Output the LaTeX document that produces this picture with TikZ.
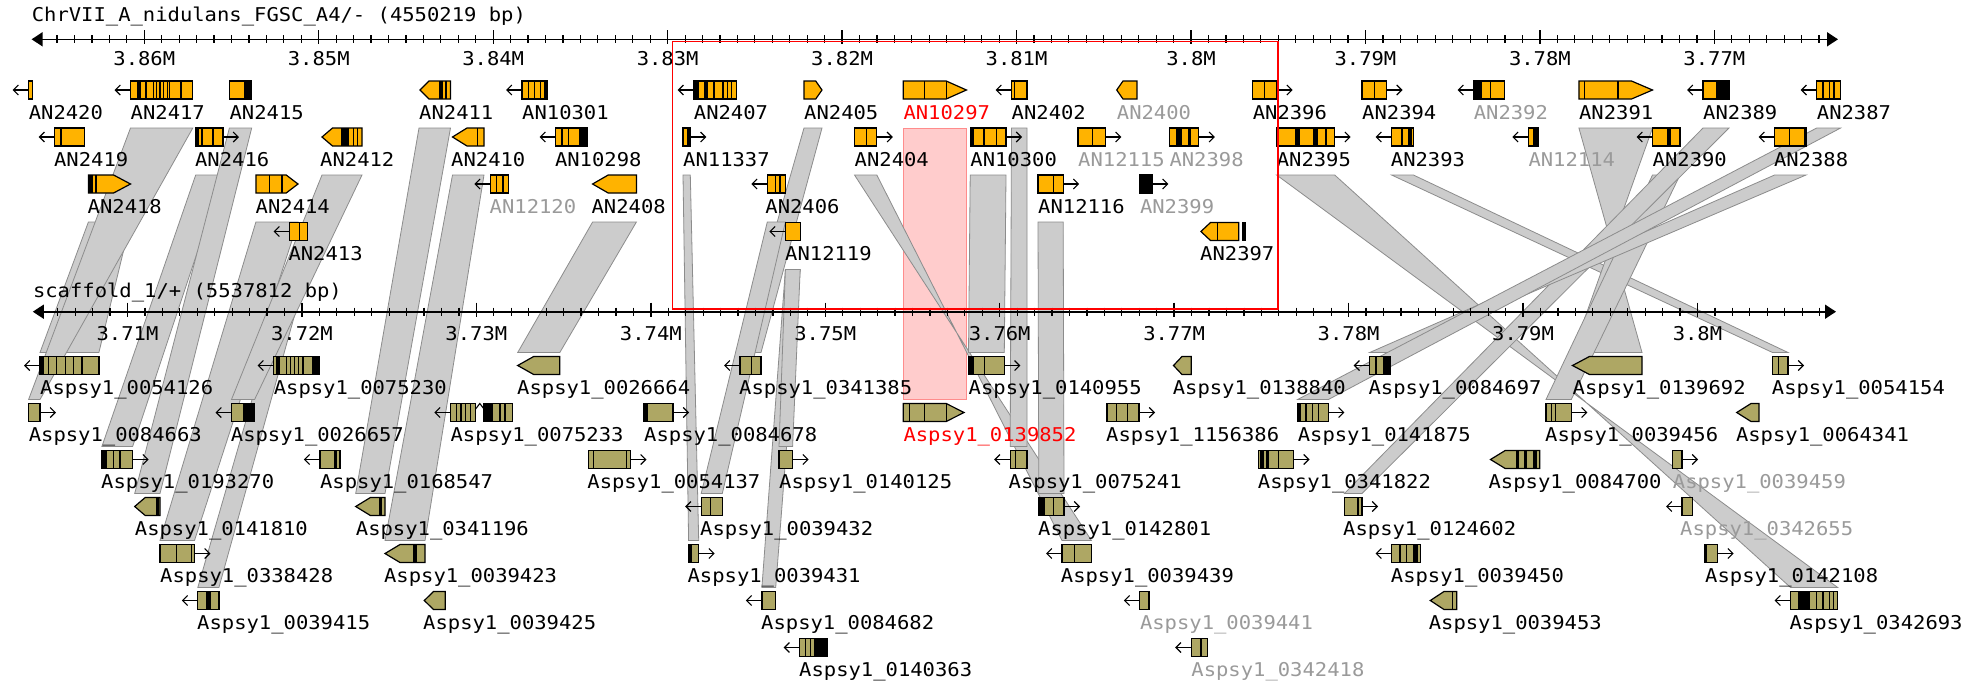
\documentclass[tikz,border=0pt]{standalone}
\usepackage{fontspec}
\newfontfamily\labfont[FakeStretch=1.08]{DejaVu Sans Mono}
\usetikzlibrary{arrows.meta}
\definecolor{gor}{HTML}{FFB300}
\definecolor{gol}{HTML}{AEA764}
\definecolor{bnd}{HTML}{CCCCCC}
\definecolor{bnde}{HTML}{8C8C8C}
\definecolor{lgray}{HTML}{9A9A9A}
\definecolor{pinkf}{HTML}{FFCCCC}
\definecolor{pinke}{HTML}{FF8C8C}
\tikzset{
  gene/.style={draw=black,line width=1.2pt},
  band/.style={fill=bnd,draw=bnde,line width=0.8pt},
  strand/.style={draw=black,line width=1.1pt,-{Straight Barb[length=5pt,width=10pt]}},
  lab/.style={font={\labfont\fontsize{19pt}{22pt}\selectfont},anchor=base west,inner sep=0pt},
  axlab/.style={font={\labfont\fontsize{19pt}{22pt}\selectfont},anchor=base,inner sep=0pt},
  glab/.style={lab,text=lgray},
  rlab/.style={lab,text=red},
  axisline/.style={line width=1.6pt,{Triangle[length=11pt,width=14pt]}-{Triangle[length=11pt,width=14pt]}},
}
\newcommand\gnR[4]{\filldraw[gene,fill=#4] (#1,#3-9) rectangle (#2,#3+9);}
\newcommand\gnL[5]{\filldraw[gene,fill=#5] (#1,#4) -- (#2,#4-9) -- (#3,#4-9) -- (#3,#4+9) -- (#2,#4+9) -- cycle;}
\newcommand\gnP[5]{\filldraw[gene,fill=#5] (#1,#4-9) -- (#2,#4-9) -- (#3,#4) -- (#2,#4+9) -- (#1,#4+9) -- cycle;}
\newcommand\gnS[2]{\draw[gene] (#1,#2-9) -- (#1,#2+9);}
\newcommand\gnB[3]{\fill[black] (#1,#3-9) rectangle (#2,#3+9);}
\newcommand\arL[2]{\draw[strand] (#1,#2) -- ++(-16,0);}
\newcommand\arR[2]{\draw[strand] (#1,#2) -- ++(16,0);}
\newcommand\bandS[6]{\filldraw[band] (#1,#3) -- (#2,#3) -- (#5,#6) -- (#4,#6) -- cycle;}
\newcommand\bandX[6]{\filldraw[band] (#1,#3) -- (#2,#3) -- (#4,#6) -- (#5,#6) -- cycle;}
\begin{document}
\begin{tikzpicture}[x=1pt,y=-1pt]
\fill[white] (0,0) rectangle (1979,686);
\useasboundingbox (0,0) rectangle (1979,686);
% pink highlight
\filldraw[fill=pinkf,draw=pinke,line width=1pt] (903.3,128) rectangle (966.4,399.5);
% bands
\bandS{88.4}{130.5}{222}{40}{98.9}{352.5}
\bandS{130.5}{192.8}{128}{28.6}{40}{399.5}
\bandS{195.7}{223}{175}{101.9}{132.6}{446.5}
\bandS{229.4}{251.7}{128}{134.7}{160}{493.5}
\bandS{255.9}{298}{222}{160}{194.5}{540.5}
\bandS{289.6}{307.3}{269.5}{197.8}{218.9}{587.5}
\bandS{322}{362}{175}{231.5}{254.6}{399.5}
\bandS{419}{450.5}{128}{355.7}{385}{493.5}
\bandS{452.5}{484}{175}{385}{425}{540.5}
\bandS{592.6}{636.4}{222}{517.7}{559.8}{352.5}
\bandS{683}{690.3}{175}{688.6}{698.7}{540.5}
\bandS{804}{822}{128}{740}{761}{352.5}
\bandS{767.3}{785.4}{222}{701.2}{722.3}{493.5}
\bandS{785.4}{800.2}{269.5}{761.9}{775.7}{587.5}
\bandS{785.4}{800.2}{269.5}{779}{792.6}{446.5}
\bandX{854.5}{876.8}{175}{1062}{1091.4}{540.5}
\bandS{970.2}{1006}{175}{968.5}{1004.3}{352.5}
\bandS{1011.5}{1027}{128}{1010.2}{1027}{446.5}
\bandS{1038}{1063.2}{222}{1038.8}{1064}{493.5}
\bandX{1276.6}{1334.7}{175}{1790.6}{1837.7}{587.5}
\bandS{1391.6}{1413.4}{175}{1772.5}{1788}{352.5}
\bandX{1578.9}{1652.5}{128}{1572.5}{1642}{352.5}
\bandS{1652.5}{1680}{175}{1546}{1571.3}{399.5}
\bandS{1703}{1729}{128}{1344.4}{1362}{493.5}
\bandS{1774.6}{1806}{175}{1369.7}{1390.7}{352.5}
\bandS{1816.7}{1840.6}{128}{1297.6}{1328.4}{399.5}
% top axis
\node[lab] (ttitle) at (31.6,21.7) {ChrVII\_A\_nidulans\_FGSC\_A4/- (4550219 bp)};
\draw[axisline] (31.6,39.3) -- (1838,39.3);
\foreach \k in {-6,...,96} {\draw[line width=1.2pt] ({144.3+\k*17.445},35.3) -- ++(0,8);}
\foreach \k/\l in {0/3.86M,1/3.85M,2/3.84M,3/3.83M,4/3.82M,5/3.81M,6/3.8M,7/3.79M,8/3.78M,9/3.77M} {
  \draw[line width=1.4pt] ({144.3+\k*174.45},30.3) -- ++(0,14);
  \node[axlab] (tx\k) at ({144.3+\k*174.45},65.5) {\l};}
% bottom axis
\node[lab] (btitle) at (32.8,297.5) {scaffold\_1/+ (5537812 bp)};
\draw[axisline] (32.8,311.7) -- (1836,311.7);
\foreach \k in {-5,...,97} {\draw[line width=1.2pt] ({127.5+\k*17.444},307.7) -- ++(0,8);}
\foreach \k/\l in {0/3.71M,1/3.72M,2/3.73M,3/3.74M,4/3.75M,5/3.76M,6/3.77M,7/3.78M,8/3.79M,9/3.8M} {
  \draw[line width=1.4pt] ({127.5+\k*174.44},302.7) -- ++(0,14);
  \node[axlab] (bx\k) at ({127.5+\k*174.44},340) {\l};}
% ===== top genes row 1 (y=90)
\arL{28.6}{90} \gnR{28.6}{32.5}{90}{gor}
\node[lab] (a2420) at (28.6,119.3) {AN2420};
\arL{130.5}{90} \gnR{130.5}{192.8}{90}{gor} \gnB{136.8}{141}{90} \gnB{145.2}{147.3}{90}
\gnS{153.6}{90} \gnS{156.6}{90} \gnS{160}{90} \gnS{163.3}{90} \gnS{167.1}{90} \gnS{169.6}{90} \gnS{181}{90}
\node[lab] (a2417) at (130.5,119.3) {AN2417};
\gnR{229.4}{251.7}{90}{gor} \gnB{244}{251.7}{90}
\node[lab] (a2415) at (229.4,119.3) {AN2415};
\gnL{420}{429}{450.5}{90}{gor} \gnB{439}{442.5}{90} \gnS{446}{90}
\node[lab] (a2411) at (419,119.3) {AN2411};
\arL{522}{90} \gnR{522}{547}{90}{gor} \gnS{528.2}{90} \gnS{534.5}{90} \gnS{540.8}{90} \gnB{543.5}{547}{90}
\node[lab] (a10301) at (522,119.3) {AN10301};
\arL{693.7}{90} \gnR{693.7}{736.6}{90}{gor} \gnB{693.7}{699}{90} \gnB{704}{708}{90} \gnB{712.5}{715}{90}
\gnS{723}{90} \gnS{727.3}{90} \gnS{731.6}{90}
\node[lab] (a2407) at (693.7,119.3) {AN2407};
\gnP{804}{815.7}{822}{90}{gor}
\node[lab] (a2405) at (804,119.3) {AN2405};
\gnP{903.3}{946.2}{966.4}{90}{gor} \gnS{924.3}{90} \gnS{946.2}{90}
\node[rlab] (a10297) at (903.3,119.3) {AN10297};
\arL{1011.5}{90} \gnR{1011.5}{1027}{90}{gor} \gnS{1014.5}{90}
\node[lab] (a2402) at (1011.5,119.3) {AN2402};
\gnL{1116.7}{1123}{1136.9}{90}{gor}
\node[glab] (a2400) at (1116.7,119.3) {AN2400};
\gnR{1252.6}{1276.6}{90}{gor} \gnS{1264.8}{90} \arR{1276.6}{90}
\node[lab] (a2396) at (1252.6,119.3) {AN2396};
\gnR{1362}{1386.5}{90}{gor} \gnS{1374.7}{90} \arR{1386.5}{90}
\node[lab] (a2394) at (1362,119.3) {AN2394};
\arL{1473.6}{90} \gnR{1473.6}{1504.4}{90}{gor} \gnB{1473.6}{1482}{90} \gnS{1490.5}{90}
\node[glab] (a2392) at (1473.6,119.3) {AN2392};
\gnP{1578.9}{1631.5}{1652.5}{90}{gor} \gnS{1584.3}{90} \gnS{1618}{90}
\node[lab] (a2391) at (1578.9,119.3) {AN2391};
\arL{1703}{90} \gnR{1703}{1729}{90}{gor} \gnB{1715.6}{1729}{90}
\node[lab] (a2389) at (1703,119.3) {AN2389};
\arL{1816.7}{90} \gnR{1816.7}{1840.6}{90}{gor} \gnS{1823}{90} \gnS{1829.3}{90} \gnS{1834}{90}
\node[lab] (a2387) at (1816.7,119.3) {AN2387};
% ===== top row 2 (y=137)
\arL{54.7}{137} \gnR{54.7}{84.2}{137}{gor} \gnS{61}{137}
\node[lab] (a2419) at (53.9,166.3) {AN2419};
\gnR{195.7}{223}{137}{gor} \gnB{195.7}{198.5}{137} \gnS{202}{137} \gnS{213}{137} \arR{223}{137}
\node[lab] (a2416) at (194.9,166.3) {AN2416};
\gnL{322}{332.5}{362}{137}{gor} \gnB{341}{349.4}{137} \gnS{353.6}{137} \gnS{357.8}{137}
\node[lab] (a2412) at (320,166.3) {AN2412};
\gnL{452.5}{467}{484}{137}{gor} \gnS{477.7}{137}
\node[lab] (a2410) at (451,166.3) {AN2410};
\arL{555.6}{137} \gnR{555.6}{587.2}{137}{gor} \gnS{562}{137} \gnS{568.2}{137} \gnB{578.7}{587.2}{137}
\node[lab] (a10298) at (554.8,166.3) {AN10298};
\gnR{683}{690.3}{137}{gor} \gnB{687}{690.3}{137} \arR{690.3}{137}
\node[lab] (a11337) at (683,166.3) {AN11337};
\gnR{854.5}{876.8}{137}{gor} \gnS{866.2}{137} \arR{876.8}{137}
\node[lab] (a2404) at (854.5,166.3) {AN2404};
\gnR{970.2}{1006}{137}{gor} \gnB{970.2}{973.6}{137} \gnS{984}{137} \gnS{996.7}{137} \arR{1006}{137}
\node[lab] (a10300) at (970.2,166.3) {AN10300};
\gnR{1078}{1105.3}{137}{gor} \gnS{1092.7}{137} \arR{1105.3}{137}
\node[glab] (a12115) at (1078,166.3) {AN12115};
\gnR{1169.3}{1198.8}{137}{gor} \gnB{1175.6}{1182}{137} \gnB{1188}{1191}{137} \arR{1198.8}{137}
\node[glab] (a2398) at (1169.3,166.3) {AN2398};
\gnR{1276.6}{1334.7}{137}{gor} \gnB{1295}{1300}{137} \gnB{1313}{1318}{137} \gnS{1326}{137} \arR{1334.7}{137}
\node[lab] (a2395) at (1276.6,166.3) {AN2395};
\arL{1391.6}{137} \gnR{1391.6}{1413.4}{137}{gor} \gnS{1402}{137} \gnB{1408.4}{1411.8}{137}
\node[lab] (a2393) at (1390.7,166.3) {AN2393};
\arL{1528.3}{137} \gnR{1528.3}{1538}{137}{gor} \gnB{1533}{1538}{137}
\node[glab] (a12114) at (1528.3,166.3) {AN12114};
\arL{1652.5}{137} \gnR{1652.5}{1680}{137}{gor} \gnB{1667.2}{1671.4}{137}
\node[lab] (a2390) at (1652.5,166.3) {AN2390};
\arL{1774.6}{137} \gnR{1774.6}{1806}{137}{gor} \gnS{1789.3}{137} \gnB{1803.5}{1806}{137}
\node[lab] (a2388) at (1773.8,166.3) {AN2388};
% ===== top row 3 (y=184)
\gnP{88.4}{113.6}{130.5}{184}{gor} \gnB{88.4}{93.4}{184} \gnS{96}{184}
\node[lab] (a2418) at (87.5,213.3) {AN2418};
\gnP{255.9}{286.2}{298}{184}{gor} \gnS{269.4}{184} \gnS{282}{184}
\node[lab] (a2414) at (255.5,213.3) {AN2414};
\arL{490.3}{184} \gnR{490.3}{508.5}{184}{gor} \gnS{496.7}{184} \gnS{503}{184}
\node[glab] (a12120) at (489.5,213.3) {AN12120};
\gnL{592.6}{608.2}{636.4}{184}{gor}
\node[lab] (a2408) at (591.4,213.3) {AN2408};
\arL{767.3}{184} \gnR{767.3}{785.4}{184}{gor} \gnS{775.7}{184} \gnS{780}{184}
\node[lab] (a2406) at (765.2,213.3) {AN2406};
\gnR{1038}{1063.2}{184}{gor} \gnS{1053.5}{184} \arR{1063.2}{184}
\node[lab] (a12116) at (1038,213.3) {AN12116};
\gnR{1139.8}{1152.4}{184}{black} \arR{1152.4}{184}
\node[glab] (a2399) at (1139.8,213.3) {AN2399};
% ===== top row 4 (y=231.5)
\arL{289.6}{231.5} \gnR{289.6}{307.3}{231.5}{gor} \gnS{299.7}{231.5}
\node[lab] (a2413) at (288.3,260.8) {AN2413};
\arL{785.4}{231.5} \gnR{785.4}{800.2}{231.5}{gor}
\node[lab] (a12119) at (785,260.8) {AN12119};
\gnL{1200.9}{1210.5}{1238.7}{231.5}{gor} \gnS{1217.7}{231.5} \gnR{1243}{1245}{231.5}{black}
\node[lab] (a2397) at (1200,260.8) {AN2397};
% ===== bottom row 1 (y=365.5)
\arL{40}{365.5} \gnR{40}{98.9}{365.5}{gol} \gnB{40}{43.5}{365.5} \gnS{48.4}{365.5} \gnS{56.8}{365.5} \gnS{65.2}{365.5} \gnS{73.6}{365.5} \gnS{82}{365.5}
\node[lab] (b0054126) at (40,394.5) {Aspsy1\_0054126};
\arL{273.6}{365.5} \gnR{273.6}{319}{365.5}{gol} \gnB{275.7}{280}{365.5} \gnS{286.2}{365.5} \gnS{290.4}{365.5} \gnS{294.6}{365.5} \gnS{298.8}{365.5} \gnS{303}{365.5} \gnB{311.5}{319}{365.5}
\node[lab] (b0075230) at (273.6,394.5) {Aspsy1\_0075230};
\gnL{517.7}{533.7}{559.8}{365.5}{gol}
\node[lab] (b0026664) at (517,394.5) {Aspsy1\_0026664};
\arL{740}{365.5} \gnR{740}{761}{365.5}{gol} \gnS{751.8}{365.5}
\node[lab] (b0341385) at (739,394.5) {Aspsy1\_0341385};
\gnR{968.5}{1004.3}{365.5}{gol} \gnB{968.5}{973.5}{365.5} \gnS{984.5}{365.5} \arR{1004.3}{365.5}
\node[lab] (b0140955) at (968.5,394.5) {Aspsy1\_0140955};
\gnL{1173.5}{1182}{1191.2}{365.5}{gol}
\node[lab] (b0138840) at (1172.6,394.5) {Aspsy1\_0138840};
\arL{1369.7}{365.5} \gnR{1369.7}{1390.7}{365.5}{gol} \gnS{1376}{365.5} \gnB{1383}{1390.7}{365.5}
\node[lab] (b0084697) at (1368.4,394.5) {Aspsy1\_0084697};
\gnL{1572.5}{1589.4}{1642}{365.5}{gol}
\node[lab] (b0139692) at (1572.5,394.5) {Aspsy1\_0139692};
\gnR{1772.5}{1788}{365.5}{gol} \gnS{1778.8}{365.5} \arR{1788}{365.5}
\node[lab] (b0054154) at (1771.7,394.5) {Aspsy1\_0054154};
% ===== bottom row 2 (y=412.5)
\gnR{28.6}{40}{412.5}{gol} \arR{40}{412.5}
\node[lab] (b0084663) at (28.6,441.5) {Aspsy1\_0084663};
\arL{231.5}{412.5} \gnR{231.5}{254.6}{412.5}{gol} \gnB{243.3}{254.6}{412.5}
\node[lab] (b0026657) at (230.7,441.5) {Aspsy1\_0026657};
\arL{450.4}{412.5} \gnR{450.4}{475.6}{412.5}{gol} \gnS{456.7}{412.5} \gnS{461}{412.5} \gnS{465.5}{412.5} \gnS{470.5}{412.5}
\draw[line width=1.1pt] (475.6,409) -- (479.8,403.5) -- (484,409);
\gnR{484}{512.7}{412.5}{gol} \gnB{484}{493}{412.5} \gnS{500}{412.5} \gnS{505}{412.5}
\node[lab] (b0075233) at (450.4,441.5) {Aspsy1\_0075233};
\gnR{644}{673}{412.5}{gol} \gnB{644}{647.5}{412.5} \arR{673}{412.5}
\node[lab] (b0084678) at (644,441.5) {Aspsy1\_0084678};
\gnP{903.3}{946.2}{964}{412.5}{gol} \gnS{909.6}{412.5} \gnS{924.3}{412.5} \gnS{946.2}{412.5}
\node[rlab] (b0139852) at (903.3,441.5) {Aspsy1\_0139852};
\gnR{1107}{1139}{412.5}{gol} \gnS{1116.7}{412.5} \gnS{1127.2}{412.5} \arR{1139}{412.5}
\node[lab] (b1156386) at (1106,441.5) {Aspsy1\_1156386};
\gnR{1297.6}{1328.4}{412.5}{gol} \gnB{1297.6}{1300.6}{412.5} \gnS{1306}{412.5} \gnS{1312.4}{412.5} \gnS{1318.5}{412.5} \arR{1328.4}{412.5}
\node[lab] (b0141875) at (1297.6,441.5) {Aspsy1\_0141875};
\gnR{1546}{1571.3}{412.5}{gol} \gnS{1551.5}{412.5} \gnS{1555.7}{412.5} \arR{1571.3}{412.5}
\node[lab] (b0039456) at (1545,441.5) {Aspsy1\_0039456};
\gnL{1736.7}{1751}{1759}{412.5}{gol}
\node[lab] (b0064341) at (1735.8,441.5) {Aspsy1\_0064341};
% ===== bottom row 3 (y=459.5)
\gnR{101.9}{132.6}{459.5}{gol} \gnB{101.9}{107.3}{459.5} \gnS{113.6}{459.5} \gnS{120}{459.5} \arR{132.6}{459.5}
\node[lab] (b0193270) at (101,488.5) {Aspsy1\_0193270};
\arL{319.9}{459.5} \gnR{319.9}{340}{459.5}{gol} \gnB{334}{337}{459.5}
\node[lab] (b0168547) at (319.9,488.5) {Aspsy1\_0168547};
\gnR{588.4}{630.5}{459.5}{gol} \gnS{593.5}{459.5} \gnS{626.3}{459.5} \arR{630.5}{459.5}
\node[lab] (b0054137) at (587.2,488.5) {Aspsy1\_0054137};
\gnR{779}{792.6}{459.5}{gol} \arR{792.6}{459.5}
\node[lab] (b0140125) at (779,488.5) {Aspsy1\_0140125};
\arL{1010.2}{459.5} \gnR{1010.2}{1027}{459.5}{gol} \gnS{1015.7}{459.5}
\node[lab] (b0075241) at (1008.5,488.5) {Aspsy1\_0075241};
\gnR{1258.5}{1293.5}{459.5}{gol} \gnB{1259.5}{1263.5}{459.5} \gnB{1266}{1269}{459.5} \gnS{1278.7}{459.5} \arR{1293.5}{459.5}
\node[lab] (b0341822) at (1257.7,488.5) {Aspsy1\_0341822};
\gnL{1490.5}{1505.2}{1539.7}{459.5}{gol} \gnB{1515.7}{1518.7}{459.5} \gnB{1524}{1527}{459.5} \gnB{1532.5}{1536.7}{459.5}
\node[lab] (b0084700) at (1488.4,488.5) {Aspsy1\_0084700};
\gnR{1672.7}{1682}{459.5}{gol} \arR{1682}{459.5}
\node[glab] (b0039459) at (1672.7,488.5) {Aspsy1\_0039459};
% ===== bottom row 4 (y=506.5)
\gnL{134.7}{145.2}{160}{506.5}{gol} \gnB{155.7}{159}{506.5}
\node[lab] (b0141810) at (134.7,535.5) {Aspsy1\_0141810};
\gnL{355.7}{370.4}{385}{506.5}{gol} \gnB{378.8}{382}{506.5}
\node[lab] (b0341196) at (355.7,535.5) {Aspsy1\_0341196};
\arL{701.2}{506.5} \gnR{701.2}{722.3}{506.5}{gol} \gnS{710.5}{506.5}
\node[lab] (b0039432) at (700,535.5) {Aspsy1\_0039432};
\gnR{1038.8}{1064}{506.5}{gol} \gnB{1038.8}{1045}{506.5} \gnS{1053.5}{506.5} \arR{1064}{506.5}
\node[lab] (b0142801) at (1038,535.5) {Aspsy1\_0142801};
\gnR{1344.4}{1362}{506.5}{gol} \gnS{1358}{506.5} \arR{1362}{506.5}
\node[lab] (b0124602) at (1343,535.5) {Aspsy1\_0124602};
\arL{1682}{506.5} \gnR{1682}{1692.5}{506.5}{gol}
\node[glab] (b0342655) at (1680,535.5) {Aspsy1\_0342655};
% ===== bottom row 5 (y=553.5)
\gnR{160}{194.5}{553.5}{gol} \gnS{176.8}{553.5} \gnS{191.5}{553.5} \arR{194.5}{553.5}
\node[lab] (b0338428) at (160,582.5) {Aspsy1\_0338428};
\gnL{385}{400}{425}{553.5}{gol} \gnB{412.5}{416.7}{553.5}
\node[lab] (b0039423) at (383.9,582.5) {Aspsy1\_0039423};
\gnR{688.6}{698.7}{553.5}{gol} \gnB{688.6}{692}{553.5} \arR{698.7}{553.5}
\node[lab] (b0039431) at (687.4,582.5) {Aspsy1\_0039431};
\arL{1062}{553.5} \gnR{1062}{1091.4}{553.5}{gol} \gnS{1074.6}{553.5}
\node[lab] (b0039439) at (1060.7,582.5) {Aspsy1\_0039439};
\arL{1391.6}{553.5} \gnR{1391.6}{1420.2}{553.5}{gol} \gnS{1400}{553.5} \gnS{1406.3}{553.5} \gnB{1412.6}{1417.6}{553.5}
\node[lab] (b0039450) at (1390.7,582.5) {Aspsy1\_0039450};
\gnR{1705}{1717.7}{553.5}{gol} \gnB{1705}{1707}{553.5} \arR{1717.7}{553.5}
\node[lab] (b0142108) at (1705,582.5) {Aspsy1\_0142108};
% ===== bottom row 6 (y=600.5)
\arL{197.8}{600.5} \gnR{197.8}{218.9}{600.5}{gol} \gnB{206.2}{210.5}{600.5}
\node[lab] (b0039415) at (197,629.5) {Aspsy1\_0039415};
\gnL{424.3}{433.5}{445.3}{600.5}{gol}
\node[lab] (b0039425) at (423,629.5) {Aspsy1\_0039425};
\arL{761.9}{600.5} \gnR{761.9}{775.7}{600.5}{gol}
\node[lab] (b0084682) at (761,629.5) {Aspsy1\_0084682};
\arL{1139.8}{600.5} \gnR{1139.8}{1149}{600.5}{gol}
\node[glab] (b0039441) at (1139.8,629.5) {Aspsy1\_0039441};
\gnL{1430.3}{1444}{1456.8}{600.5}{gol} \gnS{1452.6}{600.5}
\node[lab] (b0039453) at (1428.6,629.5) {Aspsy1\_0039453};
\arL{1790.6}{600.5} \gnR{1790.6}{1837.7}{600.5}{gol} \gnB{1797.7}{1810.3}{600.5} \gnS{1816.7}{600.5} \gnS{1823}{600.5} \gnS{1829.3}{600.5} \gnS{1833.5}{600.5}
\node[lab] (b0342693) at (1789.4,629.5) {Aspsy1\_0342693};
% ===== bottom row 7 (y=647.5)
\arL{799.7}{647.5} \gnR{799.7}{827.5}{647.5}{gol} \gnS{805.2}{647.5} \gnS{810.4}{647.5} \gnB{814}{827.5}{647.5}
\node[lab] (b0140363) at (799,676.5) {Aspsy1\_0140363};
\arL{1191.2}{647.5} \gnR{1191.2}{1207.2}{647.5}{gol} \gnS{1200.9}{647.5}
\node[glab] (b0342418) at (1191.2,676.5) {Aspsy1\_0342418};
% red selection frame
\draw[red,line width=1.6pt] (672.6,41.5) rectangle (1278,309);
\end{tikzpicture}
\end{document}
